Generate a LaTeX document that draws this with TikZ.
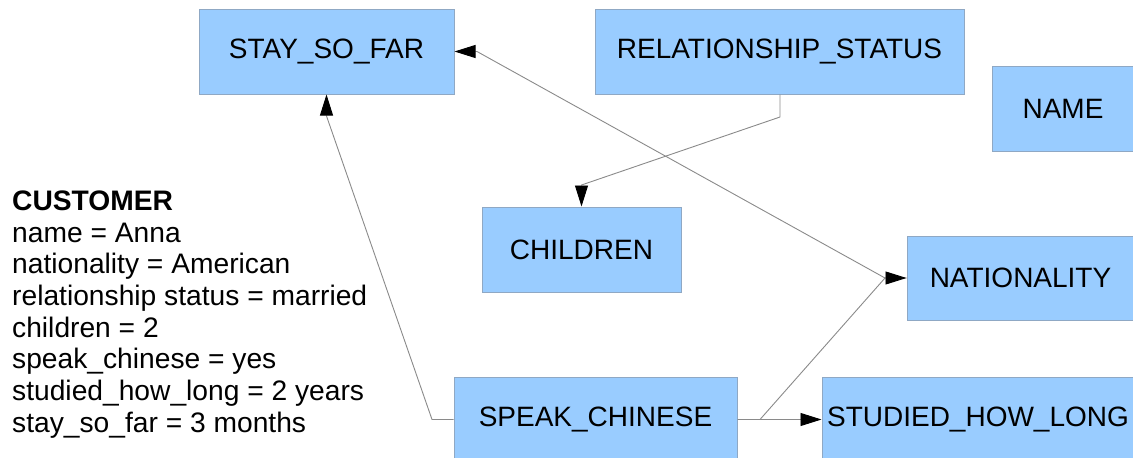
\documentclass[tikz,border=0pt]{standalone}
\usepackage{fontspec}
\setmainfont{Liberation Sans}
\usetikzlibrary{arrows.meta}
\definecolor{boxfill}{HTML}{99CCFF}
\definecolor{boxline}{HTML}{8FA8C4}
\definecolor{connline}{HTML}{8A8A8A}
\tikzset{
  entity/.style={draw=boxline, fill=boxfill, line width=1pt, inner sep=0pt,
    minimum height=85pt, font=\fontsize{28}{30}\selectfont},
  conn/.style={draw=connline, line width=0.9pt,
    -{Triangle[length=21pt,width=13pt,color=black]}},
}
\begin{document}
\begin{tikzpicture}[x=1pt,y=-1pt]
\useasboundingbox (0,0) rectangle (1133,458);
% entities
\node[entity, minimum width=255pt] (stay) at (326.5,51.5) {STAY\_SO\_FAR};
\node[entity, minimum width=369pt] (rel) at (779.5,51.5) {RELATIONSHIP\_STATUS};
\node[entity, minimum width=142pt] (name) at (1063,108.5) {NAME};
\node[entity, minimum width=199pt] (child) at (581.5,249.5) {CHILDREN};
\node[entity, minimum width=227pt, minimum height=84pt] (nat) at (1020.5,278) {NATIONALITY};
\node[entity, minimum width=283pt] (speak) at (595.5,419.5) {SPEAK\_CHINESE};
\node[entity, minimum width=312pt] (studied) at (978,419.5) {STUDIED\_HOW\_LONG};
% text block
\node[anchor=north west, inner sep=0pt, align=left,
  font=\fontsize{28.2}{31.7}\selectfont] (cust) at (12,190.6)
  {\textbf{CUSTOMER}\\
   name = Anna\\
   nationality = American\\
   relationship status = married\\
   children = 2\\
   speak\_chinese = yes\\
   studied\_how\_long = 2 years\\
   stay\_so\_far = 3 months};
% bend points
\coordinate (rb) at (780,117);
\coordinate (cb) at (581.5,185);
\coordinate (nj) at (885,278);
\coordinate (sk) at (477,51.5);
\coordinate (sw) at (432,419.5);
\coordinate (sb) at (326.5,116);
\coordinate (se) at (760,419.5);
% connectors
\draw[conn] (rel.south -| rb) -- (rb) -- (cb) -- (child.north);
\draw[conn] (nat.west) -- (nj) -- (sk) -- (stay.east);
\draw[conn] (speak.east) -- (se) -- (nj) -- (nat.west);
\draw[conn] (speak.west) -- (sw) -- (sb) -- (stay.south);
\draw[conn] (speak.east) -- (studied.west);
\end{tikzpicture}
\end{document}
